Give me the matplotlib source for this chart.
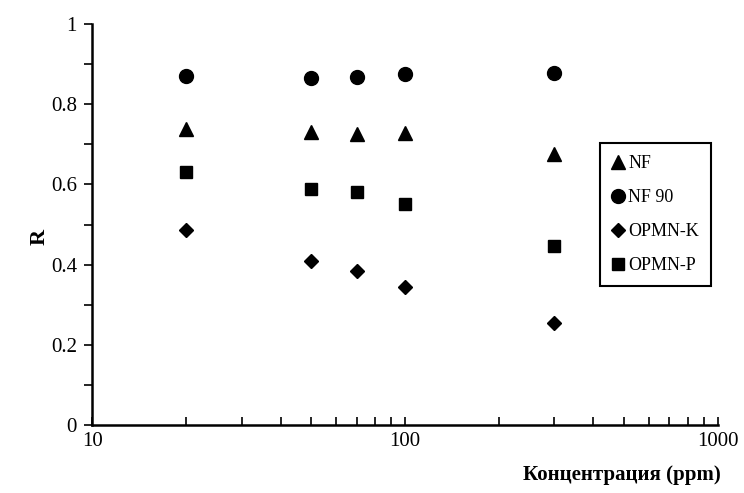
import matplotlib.pyplot as plt

conc = [20, 50, 70, 100, 300]
nf = [0.738, 0.73, 0.726, 0.728, 0.676]
nf90 = [0.87, 0.865, 0.867, 0.875, 0.877]
opmn_k = [0.487, 0.41, 0.383, 0.345, 0.255]
opmn_p = [0.632, 0.588, 0.581, 0.551, 0.446]

plt.rcParams['font.family'] = ['Liberation Serif', 'DejaVu Serif']
plt.rcParams['font.size'] = 15

fig = plt.figure(figsize=(7.44, 4.93), dpi=100)
ax = fig.add_axes([0.124, 0.138, 0.841, 0.813])

ax.plot(conc, nf, linestyle='none', marker='^', color='black', markersize=10, label='NF')
ax.plot(conc, nf90, linestyle='none', marker='o', color='black', markersize=10, label='NF 90')
ax.plot(conc, opmn_k, linestyle='none', marker='D', color='black', markersize=7.5, label='OPMN-K')
ax.plot(conc, opmn_p, linestyle='none', marker='s', color='black', markersize=9, label='OPMN-P')

ax.set_xscale('log')
ax.set_xlim(10, 1000)
ax.set_ylim(0, 1)
ax.set_yticks([0, 0.2, 0.4, 0.6, 0.8, 1])
ax.set_yticklabels(['0', '0.2', '0.4', '0.6', '0.8', '1'])
ax.set_yticks([0.1, 0.3, 0.5, 0.7, 0.9], minor=True)
ax.set_xticks([10, 100, 1000])
ax.set_xticklabels(['10', '100', '1000'])

for s in ['top', 'right']:
    ax.spines[s].set_visible(False)
for s in ['left', 'bottom']:
    ax.spines[s].set_linewidth(1.8)

ax.tick_params(axis='y', which='both', direction='out', length=6, width=1.2)
ax.tick_params(axis='x', which='both', direction='in', length=6, width=1.2)
ax.tick_params(axis='both', which='major', pad=5)

ax.set_ylabel('R', fontweight='bold', fontsize=16)
ax.yaxis.set_label_coords(-0.068, 0.47)
ax.set_xlabel('Концентрация (ppm)', fontweight='bold', fontsize=15)
ax.xaxis.set_label_coords(0.846, -0.10)

leg = ax.legend(loc='upper left', bbox_to_anchor=(0.812, 0.703), frameon=True, fancybox=False,
                edgecolor='black', handlelength=0.7, handletextpad=0.2, labelspacing=0.95,
                fontsize=13, borderpad=0.65, borderaxespad=0, framealpha=1)
leg.get_frame().set_linewidth(1.5)

fig.savefig('out.png', dpi=100)
